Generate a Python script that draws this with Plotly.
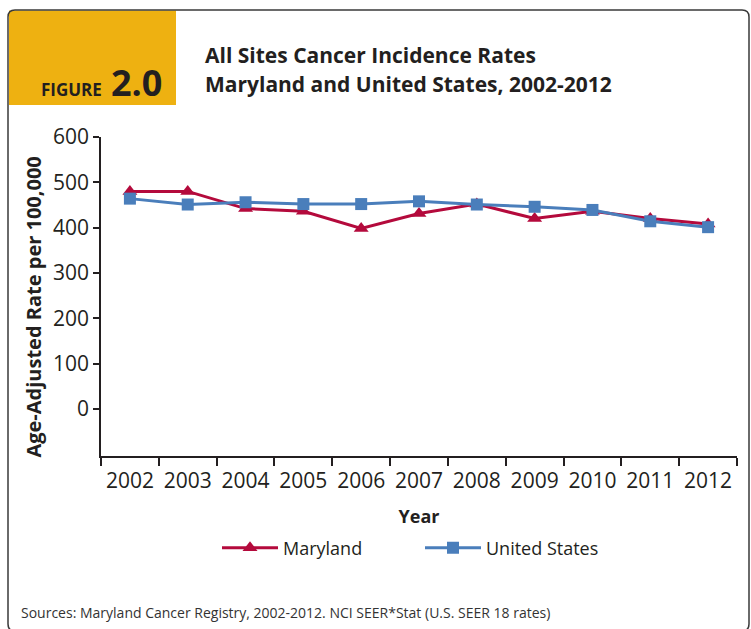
import plotly.graph_objects as go

years = ["2002", "2003", "2004", "2005", "2006", "2007", "2008", "2009", "2010", "2011", "2012"]
maryland = [480, 480, 442, 436, 398, 431, 452, 420, 436, 420, 408]
united_states = [464, 451, 456, 452, 452, 458, 451, 446, 439, 414, 401]
y_ticks = [0, 100, 200, 300, 400, 500, 600]

W, H = 751, 629
ML, MR, MT, MB = 101, 14, 137, 173
PW, PH = W - ML - MR, H - MT - MB


def PX(x):
    return (x - ML) / PW


def PY(y):
    return (H - MB - y) / PH


MD_COLOR = "#B40A3C"
US_COLOR = "#4A7EBB"
TXT = "#231F20"

fig = go.Figure()
fig.add_trace(go.Scatter(
    x=years, y=maryland, name="Maryland", mode="lines+markers",
    line=dict(color=MD_COLOR, width=3),
    marker=dict(symbol="triangle-up", size=13, color=MD_COLOR),
))
fig.add_trace(go.Scatter(
    x=years, y=united_states, name="United States", mode="lines+markers",
    line=dict(color=US_COLOR, width=3),
    marker=dict(symbol="square", size=12, color=US_COLOR),
))

# frame with rounded corners
x0, x1, y0, y1, r = 8, 749, 10, 631, 7
path = (
    f"M {PX(x0)},{PY(y0 + r)} "
    f"Q {PX(x0)},{PY(y0)} {PX(x0 + r)},{PY(y0)} "
    f"L {PX(x1 - r)},{PY(y0)} "
    f"Q {PX(x1)},{PY(y0)} {PX(x1)},{PY(y0 + r)} "
    f"L {PX(x1)},{PY(y1 - r)} "
    f"Q {PX(x1)},{PY(y1)} {PX(x1 - r)},{PY(y1)} "
    f"L {PX(x0 + r)},{PY(y1)} "
    f"Q {PX(x0)},{PY(y1)} {PX(x0)},{PY(y1 - r)} Z"
)
shapes = [
    dict(type="rect", xref="paper", yref="paper",
         x0=PX(9), x1=PX(176), y0=PY(105), y1=PY(10.5),
         fillcolor="#EEB111", line=dict(width=0), layer="below"),
    dict(type="path", xref="paper", yref="paper", path=path,
         line=dict(color="#3a3a3a", width=1.5), layer="above"),
]

TITLE_FONT = "Open Sans, sans-serif"
annotations = [
    dict(text="<b>All Sites Cancer Incidence Rates</b>", x=PX(203), y=PY(55),
         xanchor="left", yanchor="middle", xref="paper", yref="paper", showarrow=False,
         font=dict(family=TITLE_FONT, size=21, color=TXT)),
    dict(text="<b>Maryland and United States, 2002-2012</b>", x=PX(203), y=PY(84),
         xanchor="left", yanchor="middle", xref="paper", yref="paper", showarrow=False,
         font=dict(family=TITLE_FONT, size=21, color=TXT)),
    dict(text="<b>FIGURE</b>", x=PX(104), y=PY(89),
         xanchor="right", yanchor="middle", xref="paper", yref="paper", showarrow=False,
         font=dict(family=TITLE_FONT, size=17, color=TXT)),
    dict(text="<b>2.0</b>", x=PX(109), y=PY(82),
         xanchor="left", yanchor="middle", xref="paper", yref="paper", showarrow=False,
         font=dict(family=TITLE_FONT, size=36, color=TXT)),
    dict(text="Sources: Maryland Cancer Registry, 2002-2012. NCI SEER*Stat (U.S. SEER 18 rates)",
         x=PX(19), y=PY(612), xanchor="left", yanchor="middle", xref="paper", yref="paper",
         showarrow=False, font=dict(family=TITLE_FONT, size=14, color="#333333")),
]

fig.update_layout(
    width=W, height=H,
    margin=dict(l=ML, r=MR, t=MT, b=MB, pad=0),
    paper_bgcolor="white", plot_bgcolor="white",
    font=dict(family="Open Sans, sans-serif", color=TXT),
    shapes=shapes, annotations=annotations,
    showlegend=True,
    legend=dict(orientation="h", x=PX(217), xanchor="left", y=PY(548), yanchor="middle",
                font=dict(size=18, color=TXT), itemwidth=56, entrywidth=132,
                bgcolor="rgba(0,0,0,0)"),
)
fig.update_xaxes(
    type="category", range=[-0.5, 10.5], tickson="boundaries",
    showline=True, linecolor=TXT, linewidth=1.5,
    ticks="outside", ticklen=8, tickwidth=1.5, tickcolor=TXT,
    ticklabelstandoff=5,
    tickfont=dict(size=21, color=TXT), showgrid=False, zeroline=False,
    title=dict(text="<b>Year</b>", font=dict(size=18, color=TXT), standoff=17),
)
fig.update_yaxes(
    range=[-104, 600], tickvals=y_ticks,
    showline=True, linecolor=TXT, linewidth=1.5,
    ticks="outside", ticklen=6, tickwidth=1.5, tickcolor=TXT,
    tickfont=dict(size=21, color=TXT), showgrid=False, zeroline=False,
    title=dict(text="<b>Age-Adjusted Rate per 100,000\u00a0\u00a0\u00a0\u00a0</b>",
               font=dict(size=20, color=TXT), standoff=6),
)

fig.write_html("out.html")
